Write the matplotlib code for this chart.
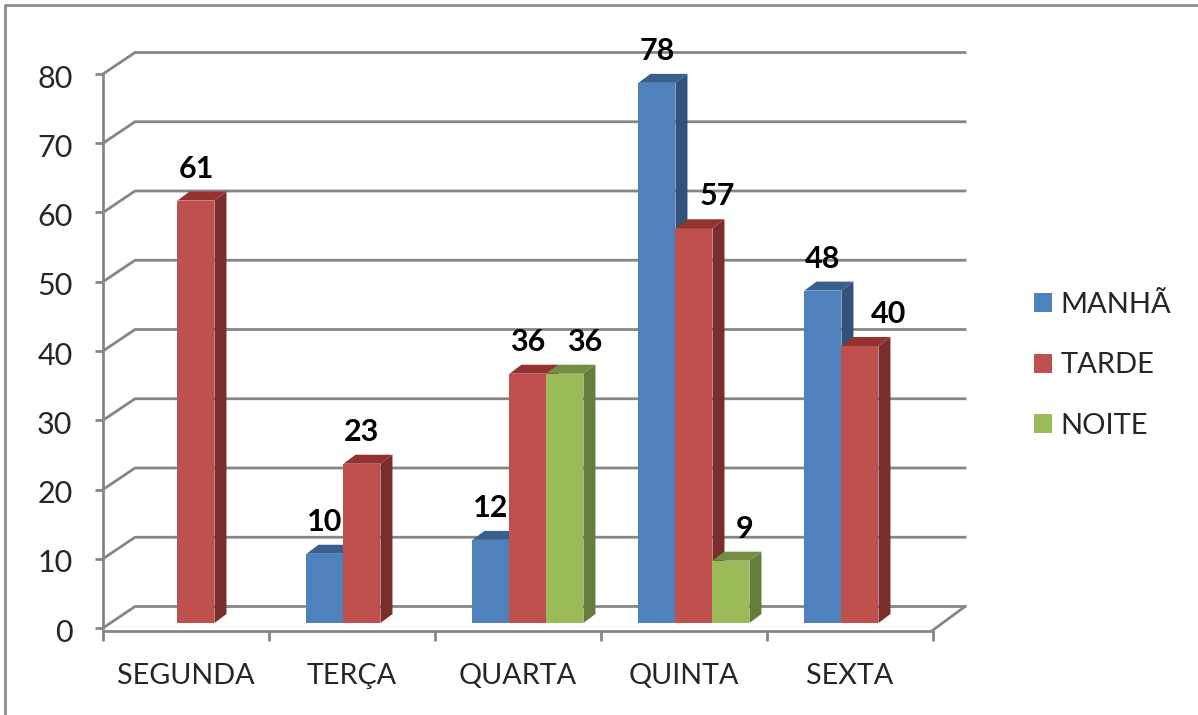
import matplotlib
matplotlib.use('Agg')
import matplotlib.pyplot as plt
from matplotlib.transforms import ScaledTranslation

plt.rcParams['font.family'] = ['Lato', 'DejaVu Sans']

dias = ['SEGUNDA', 'TERÇA', 'QUARTA', 'QUINTA', 'SEXTA']
series = ['MANHÃ', 'TARDE', 'NOITE']
manha = [0, 10, 12, 78, 48]
tarde = [61, 23, 36, 57, 40]
noite = [0, 0, 36, 9, 0]
yticks = [0, 10, 20, 30, 40, 50, 60, 70, 80]

# cores: frente, lado, topo
frente = ['#4F81BD', '#C0504D', '#9BBB59']
lado = ['#30527D', '#7A2E2C', '#667C3A']
topo = ['#38608F', '#93322F', '#748D42']
cinza = '#868686'

W, H = 1198, 715
fig = plt.figure(figsize=(W / 100, H / 100), dpi=100, facecolor='white')
# eixo em pixels: x 103-933, y 628-74
ax = fig.add_axes([103 / W, 1 - 628 / H, 830 / W, 554 / H])
ax.set_xlim(0, 5)
ax.set_ylim(0, 80)
ax.patch.set_alpha(0)

px = 5 / 830.0
py = 80 / 554.0

# moldura
fig.add_artist(plt.Line2D([5 / W, 5 / W, 1 - 1 / W], [0, 1 - 5 / H, 1 - 5 / H],
                          color='#8c8c8c', lw=2))

# paredes / grade em perspectiva
fundo_x, fundo_y = 32 * px, 21.5 * py
for v in yticks:
    ax.plot([0, fundo_x, 5 + fundo_x], [v, v + fundo_y, v + fundo_y],
            color=cinza, lw=2, clip_on=False, zorder=1, solid_joinstyle='miter')
ax.plot([5, 5 + fundo_x], [-0.3, fundo_y], color=cinza, lw=2, clip_on=False, zorder=1)

for s in ['top', 'right']:
    ax.spines[s].set_visible(False)
for s in ['left', 'bottom']:
    ax.spines[s].set_color(cinza)
    ax.spines[s].set_linewidth(2)
ax.spines['bottom'].set_position(('outward', 2))

ax.set_yticks(yticks)
ax.set_xticks(range(6))
ax.set_xticklabels([])
ax.set_xticks([i + 0.5 for i in range(5)], minor=True)
ax.set_xticklabels(dias, minor=True, fontsize=20.7, color='#262626')
ax.tick_params(axis='x', which='major', length=7, width=2, color=cinza)
ax.tick_params(axis='x', which='minor', length=0, pad=23)
ax.tick_params(axis='y', length=6, width=2, color=cinza, labelsize=22,
               labelcolor='#262626', pad=16)
desce = ScaledTranslation(0, -1.5 / 72, fig.dpi_scale_trans)
for t in ax.get_yticklabels():
    t.set_transform(t.get_transform() + desce)

larg = 37 * 5 / 830.0
base = 5 * py
desl_x, desl_y = 12 * px, 9 * py
centro = 0.06

# ajuste horizontal dos rotulos (px), igual ao grafico original
ajuste = [[0, 0, 0, 0, 0],
          [0, 0, 0, 23, 29],
          [0, 0, 20, 14, 0]]

for s, vals in enumerate([manha, tarde, noite]):
    xs = [i + 0.5 + centro + (s - 1) * larg for i in range(5)]
    keep = [i for i in range(5) if vals[i] > 0]
    ax.bar([xs[i] for i in keep], [vals[i] for i in keep], larg, bottom=base,
           color=frente[s], label=series[s], zorder=3 + s * 2)
    for i in keep:
        x0 = xs[i] - larg / 2
        x1 = xs[i] + larg / 2
        y1 = vals[i] + base
        ax.fill([x1, x1 + desl_x, x1 + desl_x, x1],
                [base, base + desl_y, y1 + desl_y, y1],
                color=lado[s], lw=0, zorder=3 + s * 2, clip_on=False)
        ax.fill([x0, x0 + desl_x, x1 + desl_x, x1],
                [y1, y1 + desl_y, y1 + desl_y, y1],
                color=topo[s], lw=0, zorder=3 + s * 2, clip_on=False)
        ax.annotate(str(vals[i]), (xs[i], y1), xytext=(ajuste[s][i] * 0.72, 23),
                    textcoords='offset points', ha='center', va='center',
                    fontsize=22, fontweight='bold', color='black', zorder=20,
                    annotation_clip=False)

ax.legend(loc='upper left', bbox_to_anchor=(1034 / W, 1 - 292 / H),
          bbox_transform=fig.transFigure, frameon=False, fontsize=21,
          handlelength=0.62, handleheight=0.62, handletextpad=0.28,
          labelspacing=1.18, labelcolor='#262626', borderpad=0, borderaxespad=0)

fig.savefig('out.png', dpi=100)
